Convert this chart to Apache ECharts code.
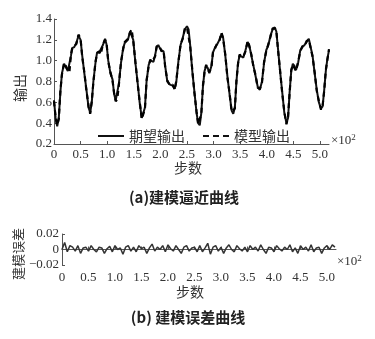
<!DOCTYPE html>
<html><head><meta charset="utf-8">
<script src="https://cdn.jsdelivr.net/npm/echarts@6/dist/echarts.min.js"></script>
<style>html,body{margin:0;padding:0;background:#fff}#c{width:375px;height:339px}</style>
</head><body><div id="c"></div>
<script>
// ---- data ----
const steps = [0,3,6,9,12,15,19,22,26,29,32,34,38,42,46,48,50,53,57,61,65,68,71,74,78,81,85,88,92,96,99,102,106,110,113,116,119,122,126,130,133,136,139,143,146,149,153,157,161,165,168,171,174,178,181,184,187,190,193,196,199,202,206,209,213,218,223,227,230,234,238,242,246,250,253,256,260,264,268,271,274,277,280,283,286,289,292,296,299,303,307,311,315,318,322,326,330,334,337,340,343,346,349,352,356,360,364,367,371,375,379,383,387,391,395,399,403,407,411,415,418,421,425,429,433,437,440,443,446,449,452,455,459,463,467,471,475,479,482,486,490,494,498,502,505,508,511,514,517];
const desired = [0.62,0.45,0.37,0.45,0.70,0.88,0.97,0.96,0.90,0.90,1.05,1.12,1.13,1.17,1.24,1.25,1.20,1.05,0.88,0.72,0.55,0.50,0.60,0.80,0.98,1.08,1.08,1.07,1.15,1.21,1.15,1.00,0.88,0.82,0.68,0.62,0.62,0.78,0.98,1.12,1.17,1.18,1.20,1.28,1.29,1.20,0.98,0.80,0.60,0.45,0.44,0.55,0.80,0.96,1.00,1.00,0.99,1.05,1.13,1.15,1.12,1.10,1.09,0.95,0.80,0.77,0.76,0.73,0.80,1.00,1.15,1.22,1.30,1.33,1.30,1.15,0.90,0.70,0.50,0.40,0.38,0.50,0.75,0.90,0.95,0.93,0.88,0.95,1.08,1.13,1.16,1.20,1.26,1.22,1.05,0.85,0.68,0.52,0.49,0.55,0.80,0.98,1.05,1.05,1.03,1.10,1.18,1.15,1.05,0.95,0.85,0.75,0.72,0.80,0.98,1.10,1.15,1.24,1.30,1.32,1.28,1.12,0.90,0.70,0.50,0.40,0.45,0.70,0.90,0.97,0.95,0.91,0.98,1.10,1.13,1.15,1.18,1.21,1.20,1.05,0.88,0.72,0.60,0.54,0.56,0.72,0.90,1.02,1.10];
const model = [0.61,0.46,0.38,0.44,0.71,0.87,0.98,0.95,0.91,0.89,1.06,1.11,1.14,1.16,1.25,1.24,1.21,1.04,0.89,0.71,0.56,0.49,0.61,0.79,0.99,1.07,1.09,1.06,1.16,1.20,1.16,0.99,0.89,0.81,0.69,0.61,0.63,0.77,0.99,1.11,1.18,1.17,1.21,1.27,1.30,1.19,0.99,0.79,0.61,0.44,0.45,0.54,0.81,0.95,1.01,0.99,1.00,1.04,1.14,1.14,1.13,1.09,1.10,0.94,0.81,0.76,0.77,0.72,0.81,0.99,1.16,1.21,1.31,1.32,1.31,1.14,0.91,0.69,0.51,0.39,0.39,0.49,0.76,0.89,0.96,0.92,0.89,0.94,1.09,1.12,1.17,1.19,1.27,1.21,1.06,0.84,0.69,0.51,0.50,0.54,0.81,0.97,1.06,1.04,1.04,1.09,1.19,1.14,1.06,0.94,0.86,0.74,0.73,0.79,0.99,1.09,1.16,1.23,1.31,1.31,1.29,1.11,0.91,0.69,0.51,0.39,0.46,0.69,0.91,0.96,0.96,0.90,0.99,1.09,1.14,1.14,1.19,1.20,1.21,1.04,0.89,0.71,0.61,0.53,0.57,0.71,0.91,1.01,1.11];
const errStep = 5;
const errors = [0.000,0.009,-0.003,0.005,0.003,-0.002,0.005,-0.005,0.002,0.003,-0.002,0.005,0.000,-0.003,0.003,0.002,-0.005,0.001,0.004,-0.003,0.005,0.000,0.002,-0.006,0.003,0.005,-0.002,0.003,-0.003,0.005,0.001,0.003,-0.005,0.002,0.007,-0.002,0.003,0.000,0.005,-0.003,0.006,0.001,-0.002,0.005,0.000,-0.005,0.003,0.005,-0.002,0.002,0.003,-0.003,0.005,-0.003,0.002,0.008,-0.006,0.003,0.005,-0.002,0.003,-0.005,0.002,0.006,0.000,-0.003,0.005,0.001,-0.002,0.003,-0.003,0.005,0.000,0.003,-0.002,0.006,0.000,-0.005,0.003,0.002,-0.003,0.005,0.001,-0.002,0.003,0.000,0.006,-0.003,0.002,-0.005,0.005,0.000,0.003,-0.002,0.006,-0.003,0.002,0.003,-0.005,0.002,0.005,0.000,0.006,0.003];
const xTickLabels = ['0','0.5','1.0','1.5','2.0','2.5','3.0','3.5','4.0','4.5','5.0'];
const seriesNames = ['期望输出','模型输出'];

// ---- chart ----
const chart = echarts.init(document.getElementById('c'), null, {renderer:'canvas'});
const serif = "'Liberation Serif','DejaVu Serif',serif";
const cjk = "'Noto Sans CJK SC','Liberation Serif',serif";
const txt = '#333';
const axisLine = {lineStyle:{color:'#555',width:1}};
const xLabelFmt = v => { const i = Math.round(v/50); return (Math.abs(v - i*50) < 1e-6 && xTickLabels[i] !== undefined) ? xTickLabels[i] : ''; };
const pairs = (xs, ys) => xs.map((x,i)=>[x, ys[i]]);
const xEnd = 517;

chart.setOption({
  animation:false,
  backgroundColor:'#fff',
  grid:[
    {left:54, top:19, width:275, height:125},
    {left:62, top:234, width:274, height:31}
  ],
  legend:{
    left:93, top:124, itemWidth:26, itemHeight:2, itemGap:18, symbolKeepAspect:false,
    textStyle:{fontFamily:cjk, fontSize:14, color:txt},
    data:[
      {name:seriesNames[0], icon:'rect', itemStyle:{color:'#111'}},
      {name:seriesNames[1], icon:'path://M0,0h6v2h-6z M10,0h6v2h-6z M20,0h6v2h-6z', itemStyle:{color:'#111'}}
    ]
  },
  xAxis:[
    {gridIndex:0, type:'value', min:0, max:xEnd, interval:50,
     axisLine:axisLine, axisTick:{inside:true,length:3,lineStyle:{color:'#555'}}, splitLine:{show:false},
     axisLabel:{formatter:xLabelFmt, fontFamily:serif, fontSize:13, color:txt, margin:4, showMaxLabel:false}},
    {gridIndex:1, type:'value', min:0, max:xEnd, interval:50,
     axisLine:axisLine, axisTick:{inside:true,length:3,lineStyle:{color:'#555'}}, splitLine:{show:false},
     axisLabel:{formatter:xLabelFmt, fontFamily:serif, fontSize:13, color:txt, margin:6, showMaxLabel:false}}
  ],
  yAxis:[
    {gridIndex:0, type:'value', min:0.2, max:1.4, interval:0.2,
     axisLine:{show:true, lineStyle:{color:'#555'}}, axisTick:{inside:true,length:3,lineStyle:{color:'#555'}}, splitLine:{show:false},
     axisLabel:{formatter:v=>v.toFixed(1), fontFamily:serif, fontSize:13, color:txt, margin:2}},
    {gridIndex:1, type:'value', min:-0.02, max:0.02, interval:0.02,
     axisLine:{show:true, lineStyle:{color:'#555'}}, axisTick:{inside:true,length:3,lineStyle:{color:'#555'}}, splitLine:{show:false},
     axisLabel:{formatter:v=> Math.abs(v)<1e-9 ? '0' : (v<0 ? '\u2212'+Math.abs(v).toFixed(2) : v.toFixed(2)), fontFamily:serif, fontSize:13, color:txt, margin:3}}
  ],
  series:[
    {name:seriesNames[0], type:'line', xAxisIndex:0, yAxisIndex:0, data:pairs(steps, desired),
     showSymbol:false, symbol:'none', lineStyle:{color:'#111', width:2, type:'solid'}, itemStyle:{color:'#111'}},
    {name:seriesNames[1], type:'line', xAxisIndex:0, yAxisIndex:0, data:pairs(steps, model),
     showSymbol:false, symbol:'none', lineStyle:{color:'#000', width:2.2, type:[5,4]}, itemStyle:{color:'#000'}},
    {name:'误差', type:'line', xAxisIndex:1, yAxisIndex:1, data:errors.map((e,i)=>[i*errStep, e]),
     showSymbol:false, symbol:'none', lineStyle:{color:'#333', width:1.5}}
  ],
  graphic:[
    {type:'text', x:20, y:88, rotation:Math.PI/2, style:{text:'输出', fontFamily:cjk, fontSize:14, fill:txt, align:'center', verticalAlign:'middle'}},
    {type:'text', x:188, y:168, style:{text:'步数', fontFamily:cjk, fontSize:14, fill:txt, align:'center', verticalAlign:'middle'}},
    {type:'text', x:331, y:141, style:{text:'×10{s|2}', rich:{s:{fontSize:9, fontFamily:serif, fill:txt, verticalAlign:'top', padding:[0,0,6,0]}}, fontFamily:serif, fontSize:13, fill:txt, align:'left', verticalAlign:'middle'}},
    {type:'text', x:184, y:197, style:{text:'(a)建模逼近曲线', fontFamily:cjk, fontSize:15, fontWeight:'bold', fill:'#222', align:'center', verticalAlign:'middle'}},
    {type:'text', x:18, y:254, rotation:Math.PI/2, style:{text:'建模误差', fontFamily:cjk, fontSize:13, fill:txt, align:'center', verticalAlign:'middle'}},
    {type:'text', x:190, y:292, style:{text:'步数', fontFamily:cjk, fontSize:14, fill:txt, align:'center', verticalAlign:'middle'}},
    {type:'text', x:337, y:262, style:{text:'×10{s|2}', rich:{s:{fontSize:9, fontFamily:serif, fill:txt, verticalAlign:'top', padding:[0,0,6,0]}}, fontFamily:serif, fontSize:13, fill:txt, align:'left', verticalAlign:'middle'}},
    {type:'text', x:188, y:317, style:{text:'(b) 建模误差曲线', fontFamily:cjk, fontSize:15, fontWeight:'bold', fill:'#222', align:'center', verticalAlign:'middle'}}
  ]
});
</script>
</body></html>
